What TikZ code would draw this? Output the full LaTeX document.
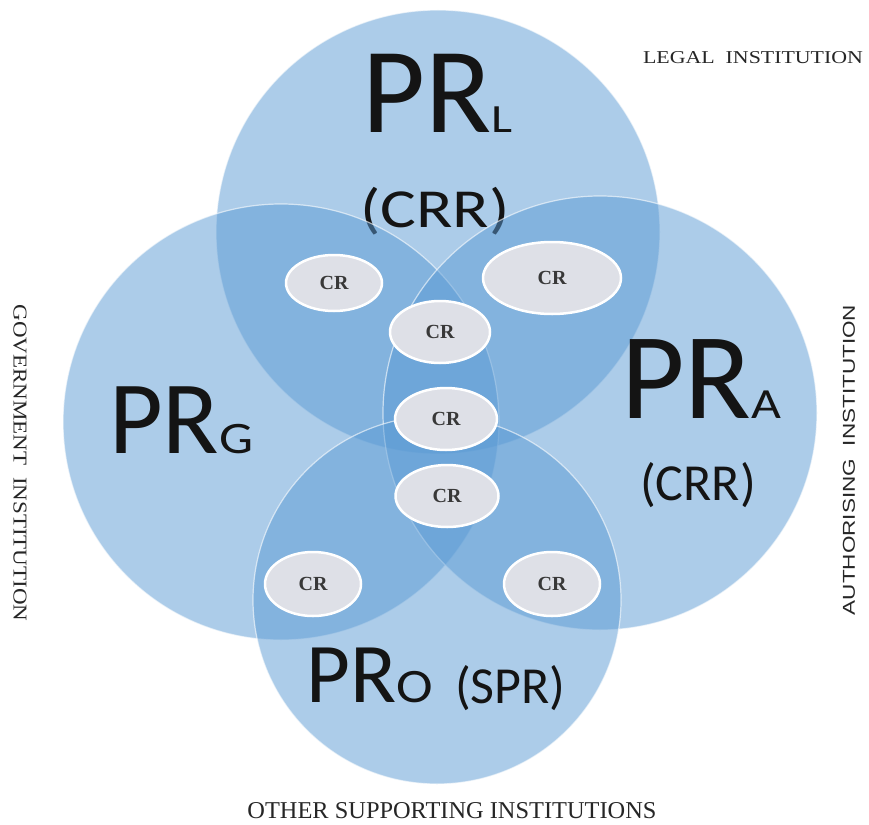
\documentclass[tikz,border=0pt]{standalone}
\usepackage{fontspec}
\usepackage{graphicx}
\setmainfont{Liberation Serif}
\newfontfamily\calfont{Carlito}
\newfontfamily\arialfont{Liberation Sans}
\usetikzlibrary{shapes.geometric}
\definecolor{vblue}{RGB}{91,155,213}
\definecolor{crfill}{RGB}{222,224,231}
\tikzset{
  venn/.style={circle, inner sep=0pt, outer sep=0pt, fill=vblue, fill opacity=0.5,
    draw=white, draw opacity=0.6, line width=1.2pt},
  crnode/.style={ellipse, inner sep=0pt, fill=crfill, draw=white, line width=2.5pt,
    font=\fontsize{20}{20}\selectfont\bfseries, text=black!78},
  bigtxt/.style={inner sep=0pt, anchor=base west, text=black!92, font=\calfont},
  lbl/.style={inner sep=0pt, text=black!85},
}
\begin{document}
\begin{tikzpicture}[x=1pt,y=-1pt]
\fill[white] (0,0) rectangle (869,824);
\useasboundingbox (0,0) rectangle (869,824);
% top circle (legal)
\node[venn, minimum size=444pt] (cL) at (438,232) {};
\node[bigtxt] (prl) at (362,132) {\fontsize{122}{122}\selectfont PR\scalebox{1.25}[1]{\fontsize{40}{40}\selectfont L}};
\node[bigtxt] (crrl) at (360,227) {\scalebox{1.22}[1]{\fontsize{55}{55}\selectfont (CRR)}};
% left circle (government)
\node[venn, minimum size=436pt] (cG) at (281,422) {};
\node[bigtxt] (prg) at (109,453) {\fontsize{104}{104}\selectfont PR\scalebox{1.2}[1]{\fontsize{45}{45}\selectfont G}};
% right circle (authorising)
\node[venn, minimum size=434pt] (cA) at (600,413) {};
\node[bigtxt] (pra) at (621,418) {\fontsize{123}{123}\selectfont PR\scalebox{1.2}[1]{\fontsize{43}{43}\selectfont A}};
\node[bigtxt] (crra) at (640,500) {\fontsize{52}{52}\selectfont (CRR)};
% bottom circle (other)
\node[venn, minimum size=368pt] (cO) at (437,600) {};
\node[bigtxt] (pro) at (306,702) {\fontsize{85}{85}\selectfont PR\scalebox{1.15}[1]{\fontsize{48}{48}\selectfont O}};
\node[bigtxt] (spr) at (455,703) {\fontsize{52}{52}\selectfont (SPR)};
% CR ellipses
\node[crnode, minimum width=96pt, minimum height=56pt] (cr1) at (334,283) {CR};
\node[crnode, minimum width=138pt, minimum height=72pt] (cr2) at (552,278) {CR};
\node[crnode, minimum width=100pt, minimum height=62pt] (cr3) at (440,332) {CR};
\node[crnode, minimum width=102pt, minimum height=62pt] (cr4) at (446,419) {CR};
\node[crnode, minimum width=103pt, minimum height=62pt] (cr5) at (447,496) {CR};
\node[crnode, minimum width=96pt, minimum height=64pt] (cr6) at (313,584) {CR};
\node[crnode, minimum width=96pt, minimum height=64pt] (cr7) at (552,584) {CR};
% side labels
\node[lbl] (legal) at (753,58) {\resizebox{220pt}{12pt}{LEGAL\ \ INSTITUTION}};
\node[lbl, rotate=-90] (gov) at (20,463) {\resizebox{317pt}{13pt}{GOVERNMENT\ \ INSTITUTION}};
\node[lbl, rotate=90] (auth) at (849,460) {\resizebox{310pt}{12pt}{\arialfont AUTHORISING\ \ INSTITUTION}};
\node[lbl] (other) at (452,811) {\resizebox{409pt}{16pt}{OTHER SUPPORTING INSTITUTIONS}};
\end{tikzpicture}
\end{document}
